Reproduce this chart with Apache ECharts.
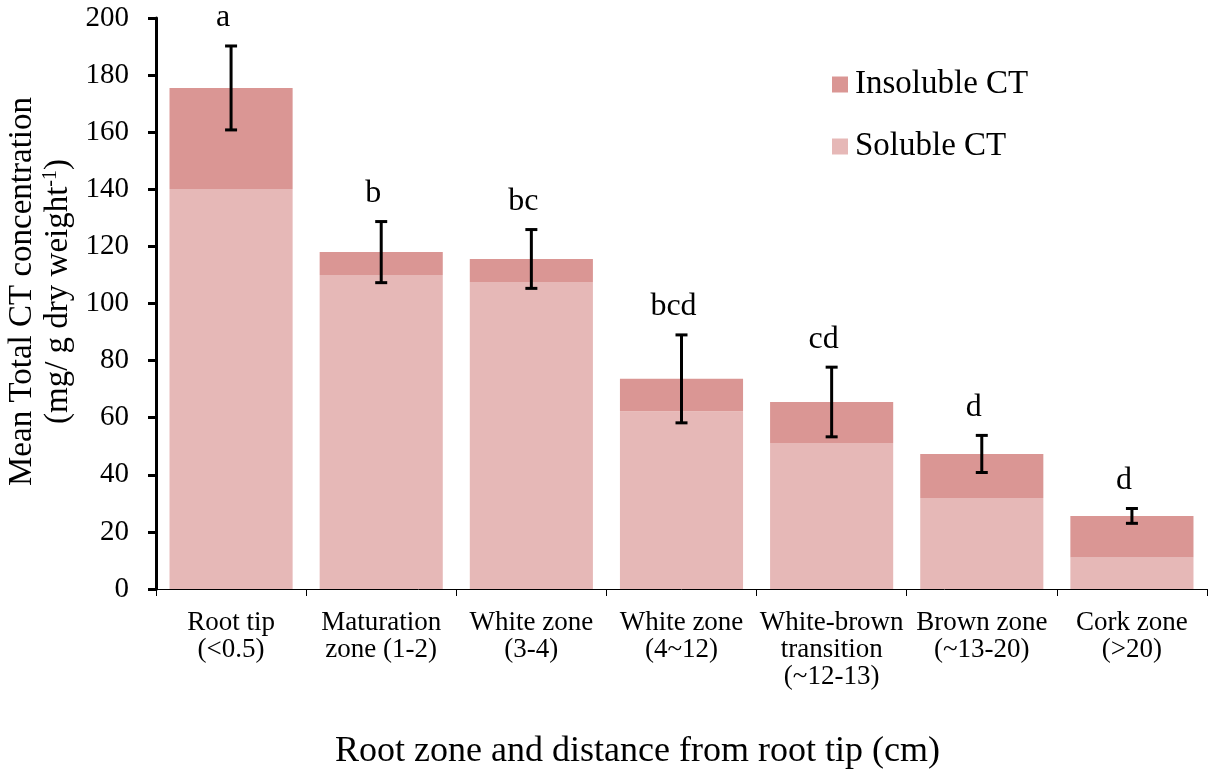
<!DOCTYPE html>
<html lang="en">

<head>
  <meta charset="UTF-8">
  <title>Root zone CT</title>
  <script src="https://cdn.jsdelivr.net/npm/echarts@6/dist/echarts.min.js"></script>
  <style>
    html, body { margin: 0; padding: 0; background: #fff; }
    #chart { width: 1209px; height: 777px; }
  </style>
</head>

<body>
  <div id="chart"></div>
  <script>
    // data
    var zones = ['Root tip\n(<0.5)', 'Maturation\nzone (1-2)', 'White zone\n(3-4)', 'White zone\n(4~12)',
      'White-brown\ntransition\n(~12-13)', 'Brown zone\n(~13-20)', 'Cork zone\n(>20)'];
    var soluble = [140.1, 110.0, 107.5, 62.3, 51.1, 31.9, 11.0];
    var insoluble = [35.4, 8.0, 8.1, 11.3, 14.4, 15.4, 14.6];
    var errSize = [14.7, 10.7, 10.3, 15.4, 12.2, 6.5, 2.6];
    var letters = ['a', 'b', 'bc', 'bcd', 'cd', 'd', 'd'];
    var yTicks = [0, 20, 40, 60, 80, 100, 120, 140, 160, 180, 200];

    var serif = 'Liberation Serif';

    var errData = [];
    for (var i = 0; i < zones.length; i++) {
      errData.push([i, soluble[i] + insoluble[i], errSize[i]]);
    }

    var myChart = echarts.init(document.getElementById('chart'));
    var option = {
      animation: false,
      textStyle: { fontFamily: serif, color: '#000' },
      grid: { left: 156, right: 2, top: 18, bottom: 188, containLabel: false, outerBoundsMode: 'none' },
      legend: {
        orient: 'vertical',
        left: 832,
        top: 68,
        padding: 0,
        icon: 'rect',
        itemWidth: 16,
        itemHeight: 16,
        itemGap: 29,
        data: ['Insoluble CT', 'Soluble CT'],
        textStyle: { fontFamily: serif, fontSize: 33, color: '#000', padding: [0, 0, 0, 2] }
      },
      xAxis: {
        type: 'category',
        data: zones,
        name: 'Root zone and distance from root tip (cm)',
        nameLocation: 'middle',
        nameGap: 145,
        nameTextStyle: { fontFamily: serif, fontSize: 36, color: '#000', padding: [0, 88, 0, 0] },
        axisLine: { lineStyle: { color: '#000', width: 1 } },
        axisTick: { show: true, length: 7, lineStyle: { color: '#000' } },
        axisLabel: { fontFamily: serif, fontSize: 27, lineHeight: 27, color: '#000', margin: 20, interval: 0 }
      },
      yAxis: {
        type: 'value',
        min: yTicks[0],
        max: yTicks[yTicks.length - 1],
        interval: 20,
        name: '{t|Mean Total CT concentration}\n{t|(mg/ g dry weight}{s|-1}{t|)}',
        nameLocation: 'middle',
        nameGap: 78,
        nameRotate: 90,
        nameTextStyle: {
          padding: [0, 0, 0, 24],
          rich: {
            t: { fontFamily: serif, fontSize: 33, lineHeight: 36, color: '#000' },
            s: { fontFamily: serif, fontSize: 20, lineHeight: 36, verticalAlign: 'top', padding: [1, 0, 0, 0], color: '#000' }
          }
        },
        axisLine: { show: true, lineStyle: { color: '#000', width: 3 } },
        axisTick: { show: true, length: 8, lineStyle: { color: '#000', width: 3 } },
        splitLine: { show: false },
        axisLabel: { fontFamily: serif, fontSize: 29, color: '#000', margin: 27 }
      },
      series: [
        {
          name: 'Soluble CT',
          type: 'bar',
          stack: 'ct',
          data: soluble,
          barCategoryGap: '18%',
          itemStyle: { color: '#E6B8B7' }
        },
        {
          name: 'Insoluble CT',
          type: 'bar',
          stack: 'ct',
          data: insoluble,
          itemStyle: { color: '#DA9694' }
        },
        {
          name: 'err',
          type: 'custom',
          data: errData,
          encode: { x: 0, y: 1 },
          z: 10,
          renderItem: function (params, api) {
            var idx = api.value(0);
            var mid = api.value(1);
            var e = api.value(2);
            var hi = api.coord([idx, mid + e]);
            var lo = api.coord([idx, mid - e]);
            var cap = 6;
            var st = { stroke: '#000', lineWidth: 3 };
            return {
              type: 'group',
              children: [
                { type: 'line', shape: { x1: hi[0], y1: hi[1], x2: lo[0], y2: lo[1] }, style: st },
                { type: 'line', shape: { x1: hi[0] - cap, y1: hi[1], x2: hi[0] + cap, y2: hi[1] }, style: st },
                { type: 'line', shape: { x1: lo[0] - cap, y1: lo[1], x2: lo[0] + cap, y2: lo[1] }, style: st },
                {
                  type: 'text',
                  style: {
                    x: hi[0] - 8, y: hi[1] - 12,
                    text: letters[params.dataIndex],
                    fill: '#000',
                    font: '32px ' + serif,
                    align: 'center',
                    verticalAlign: 'bottom'
                  }
                }
              ]
            };
          }
        }
      ]
    };
    myChart.setOption(option);
  </script>
</body>

</html>
